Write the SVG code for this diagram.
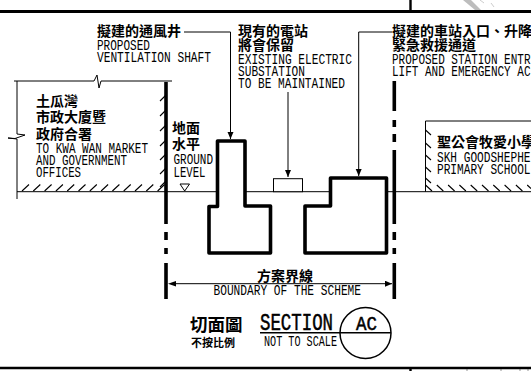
<svg xmlns="http://www.w3.org/2000/svg" width="531" height="371" viewBox="0 0 531 371">
<style>
text{fill:#000}
.c{font-family:"Noto Sans CJK TC","Noto Sans CJK SC",sans-serif;font-weight:700;font-size:14px}
.e{font-family:"Liberation Mono",monospace;font-size:14.500px}
.t{fill:none;stroke:#000;stroke-width:1}
.h{fill:none;stroke:#000;stroke-width:1.1}
.b{fill:#fff;stroke:#000;stroke-width:3.6;stroke-linejoin:round}
.d{fill:none;stroke:#000;stroke-width:3.6}
</style>
<defs>
<marker id="a" markerUnits="userSpaceOnUse" markerWidth="8" markerHeight="8" refX="7" refY="3" orient="auto"><path d="M0 0L7 3L0 6Z" fill="#000"/></marker>
</defs>
<rect width="531" height="371" fill="#fff"/>
<g id="frame">
<polygon points="463,0 471,0 481,10 475,10" fill="#bdbdbd"/>
<path d="M480 0L484 3M491 3L494 7" stroke="#ccc" stroke-width="1" fill="none"/>
<path d="M467 369V371M501 369V371M520 369V371M528 369V371" stroke="#bbb" stroke-width="1.5" fill="none"/>
<path d="M0 11.500H531" stroke="#000" stroke-width="3"/>
<path d="M0 368H531" stroke="#000" stroke-width="2.600"/>
<path d="M410.500 0V11M410.500 368V371" stroke="#000" stroke-width="2.400"/>
</g>
<g id="ground">
<path class="t" d="M17 191.700H531"/>
<polygon points="180,184 189.500,184 184.700,191" fill="#fff" stroke="#000" stroke-width="1"/>
<text class="c" x="172" y="133">地面</text>
<text class="c" x="172" y="149">水平</text>
<text class="e" x="173.500" y="164" textLength="39.500" lengthAdjust="spacingAndGlyphs">GROUND</text>
<text class="e" x="173.500" y="177" textLength="32" lengthAdjust="spacingAndGlyphs">LEVEL</text>
</g>
<g id="left-building">
<path class="t" d="M14 81H94L97 75L99 88L101 81H172"/>
<path class="t" d="M17 81V134L25 135L15 138.500L8 138L17 139V199"/>
<path class="h" d="M160 101L166 95M160 116L166 110M160 131L166 125M160 146L166 140M160 160L166 154M160 174L166 168M160 187L166 181"/>
<path class="h" d="M22 191L29 184.500M33.300 191L40.300 184.500M44.600 191L51.600 184.500M55.900 191L62.900 184.500M67.200 191L74.200 184.500M78.500 191L85.500 184.500M89.800 191L96.800 184.500M101.100 191L108.100 184.500M112.400 191L119.400 184.500M123.700 191L130.700 184.500M135 191L142 184.500M146.300 191L153.300 184.500M157.600 191L164.600 184.500"/>
<text class="c" x="36" y="106">土瓜灣</text>
<text class="c" x="36" y="122">市政大廈暨</text>
<text class="c" x="36" y="139">政府合署</text>
<text class="e" x="36" y="152.500" textLength="112" lengthAdjust="spacingAndGlyphs">TO KWA WAN MARKET</text>
<text class="e" x="36" y="164.500" textLength="91" lengthAdjust="spacingAndGlyphs">AND GOVERNMENT</text>
<text class="e" x="36" y="176.500" textLength="45" lengthAdjust="spacingAndGlyphs">OFFICES</text>
</g>
<g id="right-building">
<path class="t" d="M531 121H425.500V191.700"/>
<path class="h" d="M425.500 130L431 135M425.500 143L431 148M425.500 155L431 160M425.500 167L431 172M425.500 178L431 183"/>
<path class="h" d="M425.500 185L432 191M436.800 185L443.300 191M448.100 185L454.600 191M459.400 185L465.900 191M470.700 185L477.200 191M482 185L488.500 191M493.300 185L499.800 191M504.600 185L511.100 191M515.900 185L522.400 191M527.200 185L531 188.500"/>
<text class="c" x="437" y="147">聖公會牧愛小學</text>
<text class="e" x="437" y="162" textLength="93.500" lengthAdjust="spacingAndGlyphs">SKH GOODSHEPHE</text>
<text class="e" x="437" y="173.500" textLength="93.500" lengthAdjust="spacingAndGlyphs">PRIMARY SCHOOL</text>
</g>
<g id="boundary-lines">
<path class="d" d="M166 82V224M166 232V240M166 248V254M166 263V299"/>
<path class="d" d="M394.300 81V111M394.300 120V127M394.300 134V142M394.300 150V224M394.300 232V240M394.300 248V254M394.300 263V299"/>
</g>
<g id="ventilation-shaft">
<path class="b" d="M217.500 141H245V206H270.500V253H209V206.500H217.500Z"/>
<text class="c" x="97" y="36">擬建的通風井</text>
<text class="e" x="97" y="50" textLength="53" lengthAdjust="spacingAndGlyphs">PROPOSED</text>
<text class="e" x="97" y="62" textLength="114" lengthAdjust="spacingAndGlyphs">VENTILATION SHAFT</text>
</g>
<g id="substation">
<rect x="273.500" y="178.700" width="29" height="13" fill="#fff" stroke="#000" stroke-width="1"/>
<text class="c" x="238" y="36">現有的電站</text>
<text class="c" x="238" y="49.500">將會保留</text>
<text class="e" x="238" y="64" textLength="114" lengthAdjust="spacingAndGlyphs">EXISTING ELECTRIC</text>
<text class="e" x="238" y="76" textLength="67" lengthAdjust="spacingAndGlyphs">SUBSTATION</text>
<text class="e" x="238" y="88" textLength="107" lengthAdjust="spacingAndGlyphs">TO BE MAINTAINED</text>
</g>
<g id="station-entrance">
<path class="b" d="M330.500 178H386.500V253H305V206H330.500Z"/>
<text class="c" x="392" y="36">擬建的車站入口、升降</text>
<text class="c" x="392" y="49.500">緊急救援通道</text>
<text class="e" x="392" y="64" textLength="138.500" lengthAdjust="spacingAndGlyphs">PROPOSED STATION ENTR</text>
<text class="e" x="392" y="76" textLength="138.500" lengthAdjust="spacingAndGlyphs">LIFT AND EMERGENCY AC</text>
</g>
<g id="connectors">
<path class="t" marker-end="url(#a)" d="M184 32H230.500V139"/>
<path class="t" marker-end="url(#a)" d="M288 92V177"/>
<path class="t" marker-end="url(#a)" d="M392 32H358.700V176"/>
<path class="t" marker-end="url(#a)" d="M176 283.700H392"/>
<polygon points="168,283.700 176,281 176,286.400" fill="#000"/>
</g>
<g id="scheme-label">
<text class="c" x="257" y="281">方案界線</text>
<text class="e" x="213.500" y="295" textLength="147.500" lengthAdjust="spacingAndGlyphs">BOUNDARY OF THE SCHEME</text>
</g>
<g id="section-title">
<text x="190" y="331" style="font-family:'Noto Sans CJK TC',sans-serif;font-size:17.500px;font-weight:700">切面圖</text>
<text x="191" y="347" style="font-family:'Noto Sans CJK TC',sans-serif;font-size:11px;font-weight:700">不按比例</text>
<text x="260" y="330" textLength="73" lengthAdjust="spacingAndGlyphs" style="font-family:'Liberation Mono',monospace;font-size:23px;stroke:#000;stroke-width:.5">SECTION</text>
<path d="M260 332.800H391" stroke="#000" stroke-width="1.400" fill="none"/>
<circle cx="365.500" cy="333" r="25.500" fill="none" stroke="#000" stroke-width="1.500"/>
<text x="356" y="330" textLength="21" lengthAdjust="spacingAndGlyphs" style="font-family:'Liberation Mono',monospace;font-size:20px;stroke:#000;stroke-width:.5">AC</text>
<text class="e" x="264" y="345.500" textLength="73" lengthAdjust="spacingAndGlyphs">NOT TO SCALE</text>
</g>
</svg>
